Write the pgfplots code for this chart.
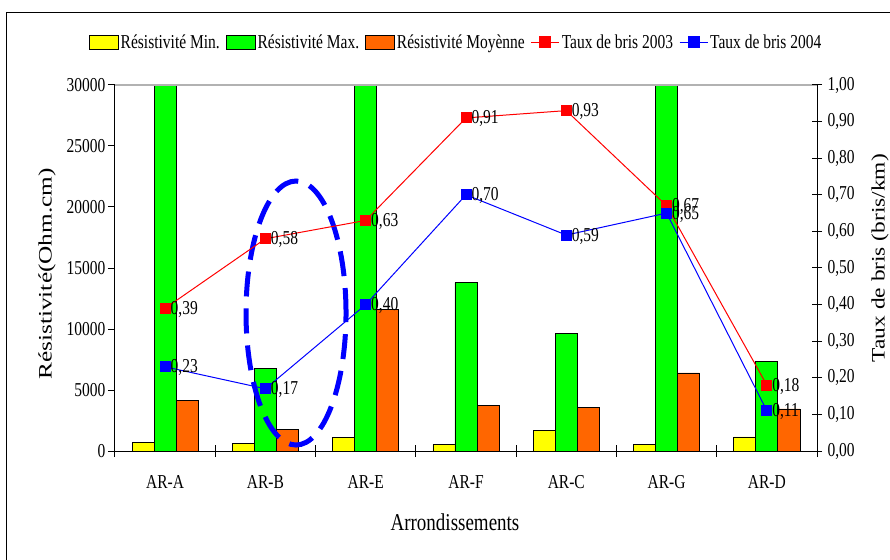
\documentclass[border=0pt]{standalone}
\usepackage{pgfplots}
\pgfplotsset{compat=1.18}
\usepackage{fontspec}
\setmainfont{Liberation Serif}
\definecolor{cyel}{RGB}{255,255,0}
\definecolor{cgreen}{RGB}{0,255,0}
\definecolor{corange}{RGB}{255,102,0}
\definecolor{cred}{RGB}{255,0,0}
\definecolor{cblue}{RGB}{0,0,255}
\newcommand{\vs}[1]{\scalebox{1}[1.27]{#1}}
\newcommand{\sm}{\fontsize{15.5}{18}\selectfont}
\newcommand{\lgf}{\fontsize{19}{22}\selectfont}
\pgfkeys{/pgf/number format/assume math mode=true}
\pgfplotsset{
  mylineleg/.style={legend image code/.code={\draw[##1, mark=none] (0pt,0pt) -- (28pt,0pt); \draw[##1] plot coordinates {(14pt,0pt)};}},
  mybarleg/.style={legend image code/.code={\draw[fill=#1, draw=black, line width=0.8pt] (0pt,-7pt) rectangle (29pt,7pt);}},
}
\begin{document}
\begin{tikzpicture}
\useasboundingbox (-115pt,-108pt) rectangle (775pt,451pt);
\draw[line width=1pt] (-108pt,-120pt) -- (-108pt,438pt) -- (800pt,438pt);
\begin{axis}[
  at={(0pt,0pt)}, anchor=south west, scale only axis,
  width=702pt, height=366pt,
  xmin=-0.5, xmax=6.5, ymin=0, ymax=30000,
  scaled y ticks=false,
  axis line style={line width=1pt, black},
  xtick={0,1,2,3,4,5,6},
  xticklabels={\vs{AR-A},\vs{AR-B},\vs{AR-E},\vs{AR-F},\vs{AR-C},\vs{AR-G},\vs{AR-D}},
  xtick pos=bottom, ytick pos=left,
  major x tick style={draw=none},
  minor xtick={-0.5,0.5,1.5,2.5,3.5,4.5,5.5,6.5},
  minor x tick style={draw=black, line width=1pt, yshift=6pt},
  minor tick length=12pt,
  tick align=outside,
  major tick length=7pt,
  ytick={0,5000,10000,15000,20000,25000,30000},
  ytick style={line width=1pt, black},
  yticklabel={\vs{\pgfmathprintnumber[fixed,1000 sep={}]{\tick}}},
  ticklabel style={font=\sm},
  yticklabel style={xshift=1pt},
  xticklabel style={yshift=-14pt},
  xlabel={\scalebox{1}[1.27]{Arrondissements}},
  xlabel style={font=\lgf, at={(axis description cs:0.4843,-0.194)}, anchor=center},
  ylabel={\scalebox{1.33}[1]{Résistivité(Ohm.cm)}},
  ylabel style={font=\lgf, at={(axis description cs:-0.0968,0.484)}, anchor=center, rotate=0},
  legend style={at={(axis description cs:0.486,1.117)}, anchor=center, draw=none, fill=none,
    legend columns=-1, font=\sm, inner sep=0pt,
    /tikz/every even column/.append style={column sep=4pt}},
]
\addplot[ybar, bar width=0.22, bar shift=-0.22, fill=cyel, draw=black, line width=0.8pt, mybarleg=cyel]
  coordinates {(0,700) (1,600) (2,1100) (3,550) (4,1700) (5,550) (6,1150)};
\addlegendentry{\vs{Résistivité Min.}}
\addplot[ybar, bar width=0.22, bar shift=0, fill=cgreen, draw=black, line width=0.8pt, mybarleg=cgreen]
  coordinates {(0,35000) (1,6800) (2,35000) (3,13800) (4,9600) (5,35000) (6,7350)};
\addlegendentry{\vs{Résistivité Max.}}
\addplot[ybar, bar width=0.22, bar shift=0.22, fill=corange, draw=black, line width=0.8pt, mybarleg=corange]
  coordinates {(0,4150) (1,1800) (2,11600) (3,3750) (4,3550) (5,6400) (6,3450)};
\addlegendentry{\vs{Résistivité Moyènne}}
\addlegendimage{cred, line width=1pt, mark=square*, mark size=5.5pt, mark options={draw=cred, fill=cred}, mylineleg}
\addlegendentry{\vs{Taux de bris 2003}}
\addlegendimage{cblue, line width=1pt, mark=square*, mark size=5.5pt, mark options={draw=cblue, fill=cblue}, mylineleg}
\addlegendentry{\vs{Taux de bris 2004}}
\end{axis}
\draw[gray!60, line width=1.2pt] (0pt,366pt) -- (702pt,366pt);
\begin{axis}[
  at={(0pt,0pt)}, anchor=south west, scale only axis,
  width=702pt, height=366pt,
  xmin=-0.5, xmax=6.5, ymin=0, ymax=1,
  axis x line=none, axis y line*=right,
  axis line style={-, line width=1pt, black},
  ytick={0,0.1,0.2,0.3,0.4,0.5,0.6,0.7,0.8,0.9,1.0},
  ytick style={line width=1pt, black},
  tick align=center, major tick length=10pt,
  yticklabel={\vs{\pgfmathprintnumber[fixed,fixed zerofill,precision=2,use comma]{\tick}}},
  yticklabel style={font=\sm, xshift=2pt},
  ylabel={\scalebox{1.23}[1]{Taux de bris (bris/km)}},
  ylabel style={font=\lgf, at={(axis description cs:1.0897,0.527)}, anchor=center, rotate=0},
  nodes near coords={\vs{\pgfmathprintnumber[fixed,fixed zerofill,precision=2,use comma]{\pgfplotspointmeta}}},
  nodes near coords style={font=\sm, anchor=west, xshift=4pt, yshift=-1pt, inner sep=1pt, text=black},
  point meta=y,
]
\draw[cblue, line width=5pt, dash pattern=on 25pt off 12pt] (axis cs:1.305,0.377) ellipse [x radius=50pt, y radius=132pt];
\addplot[cred, line width=1pt, mark=square*, mark size=5pt, mark options={draw=cred, fill=cred}]
  coordinates {(0,0.39) (1,0.58) (2,0.63) (3,0.91) (4,0.93) (5,0.67) (6,0.18)};
\addplot[cblue, line width=1pt, mark=square*, mark size=5pt, mark options={draw=cblue, fill=cblue}]
  coordinates {(0,0.23) (1,0.17) (2,0.40) (3,0.70) (4,0.59) (5,0.65) (6,0.11)};
\end{axis}
\end{tikzpicture}
\end{document}
